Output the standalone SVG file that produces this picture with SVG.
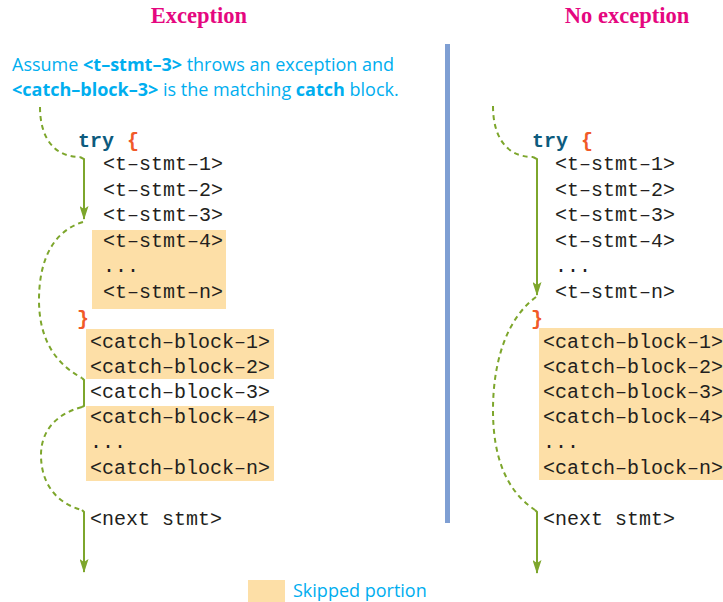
<svg xmlns="http://www.w3.org/2000/svg" width="723" height="602" viewBox="0 0 723 602">
<defs>
<style>
.title{font-family:"Liberation Serif",serif;font-weight:bold;font-size:22.5px;fill:#E5077F;text-anchor:middle}
.note{font-family:"Open Sans","Liberation Sans",sans-serif;font-size:18px;fill:#00AEEF}
.b{font-weight:bold}
.code{font-family:"Liberation Mono",monospace;font-size:20px;fill:#231F20}
.kw{font-family:"Liberation Mono",monospace;font-size:20px;font-weight:bold;fill:#0D5B7E}
.br{font-family:"Liberation Mono",monospace;font-size:20px;font-weight:bold;fill:#F15A29}
.skip{fill:#FDDFA7}
.dash{fill:none;stroke:#7DA62C;stroke-width:2;stroke-dasharray:5 4}
.flow{fill:none;stroke:#7DA62C;stroke-width:2}
</style>
<marker id="ah" viewBox="0 0 14 9" refX="13" refY="4.5" markerWidth="14" markerHeight="9" markerUnits="userSpaceOnUse" orient="auto">
<path d="M0,0 L14,4.5 L0,9 L3,4.5 Z" fill="#7DA62C"/>
</marker>
</defs>
<rect width="723" height="602" fill="#FFFFFF"/>

<g id="titles">
<text class="title" x="199" y="23">Exception</text>
<text class="title" x="627" y="23">No exception</text>
</g>

<g id="note">
<text class="note" x="12" y="71">Assume <tspan class="b">&lt;t–stmt–3&gt;</tspan> throws an exception and</text>
<text class="note" x="12" y="96"><tspan class="b">&lt;catch–block–3&gt;</tspan> is the matching <tspan class="b">catch</tspan> block.</text>
</g>

<rect id="divider" x="445" y="44" width="5" height="479" fill="#7F9FD3"/>

<g id="skipped-left">
<rect class="skip" x="92" y="230" width="134" height="79"/>
<rect class="skip" x="86" y="329" width="188" height="50"/>
<rect class="skip" x="86" y="406" width="188" height="75"/>
</g>
<g id="skipped-right">
<rect class="skip" x="539" y="328" width="190" height="152"/>
</g>

<g id="code-left">
<text class="kw" x="78" y="147">try</text>
<text class="br" x="127" y="147">{</text>
<text class="code" x="103" y="170">&lt;t–stmt–1&gt;</text>
<text class="code" x="103" y="196">&lt;t–stmt–2&gt;</text>
<text class="code" x="103" y="221">&lt;t–stmt–3&gt;</text>
<text class="code" x="103" y="247">&lt;t–stmt–4&gt;</text>
<text class="code" x="103" y="272">...</text>
<text class="code" x="103" y="298">&lt;t–stmt–n&gt;</text>
<text class="br" x="77" y="325">}</text>
<text class="code" x="90" y="348">&lt;catch–block–1&gt;</text>
<text class="code" x="90" y="373">&lt;catch–block–2&gt;</text>
<text class="code" x="90" y="398">&lt;catch–block–3&gt;</text>
<text class="code" x="90" y="423">&lt;catch–block–4&gt;</text>
<text class="code" x="90" y="448">...</text>
<text class="code" x="90" y="474">&lt;catch–block–n&gt;</text>
<text class="code" x="90" y="525">&lt;next stmt&gt;</text>
</g>

<g id="code-right">
<text class="kw" x="532" y="147">try</text>
<text class="br" x="581" y="147">{</text>
<text class="code" x="555" y="170">&lt;t–stmt–1&gt;</text>
<text class="code" x="555" y="196">&lt;t–stmt–2&gt;</text>
<text class="code" x="555" y="221">&lt;t–stmt–3&gt;</text>
<text class="code" x="555" y="247">&lt;t–stmt–4&gt;</text>
<text class="code" x="555" y="272">...</text>
<text class="code" x="555" y="298">&lt;t–stmt–n&gt;</text>
<text class="br" x="531" y="325">}</text>
<text class="code" x="543" y="348">&lt;catch–block–1&gt;</text>
<text class="code" x="543" y="373">&lt;catch–block–2&gt;</text>
<text class="code" x="543" y="398">&lt;catch–block–3&gt;</text>
<text class="code" x="543" y="423">&lt;catch–block–4&gt;</text>
<text class="code" x="543" y="448">...</text>
<text class="code" x="543" y="474">&lt;catch–block–n&gt;</text>
<text class="code" x="543" y="525">&lt;next stmt&gt;</text>
</g>

<g id="connectors">
<path class="dash" d="M40,107 C40,135 52,157 80,157"/>
<path class="flow" d="M80,157 L84,159 L84,219" marker-end="url(#ah)"/>
<path class="dash" d="M83,222 C50,232 39,265 39,300 C39,335 52,362 82,378"/>
<path class="flow" d="M82,378 L84,380 L84,406 L82,407"/>
<path class="dash" d="M82,407 C55,414 41,432 41,455 C41,482 55,503 82,510"/>
<path class="flow" d="M82,510 L84,512 L84,572" marker-end="url(#ah)"/>

<path class="dash" d="M493,106 C493,135 505,157 533,157"/>
<path class="flow" d="M533,157 L537,159 L537,295" marker-end="url(#ah)"/>
<path class="dash" d="M536,297 C505,320 493,365 493,410 C493,455 505,490 535,510"/>
<path class="flow" d="M535,510 L537,512 L537,573" marker-end="url(#ah)"/>
</g>

<g id="legend">
<rect class="skip" x="248" y="580" width="37" height="22"/>
<text class="note" x="293" y="597">Skipped portion</text>
</g>
</svg>
